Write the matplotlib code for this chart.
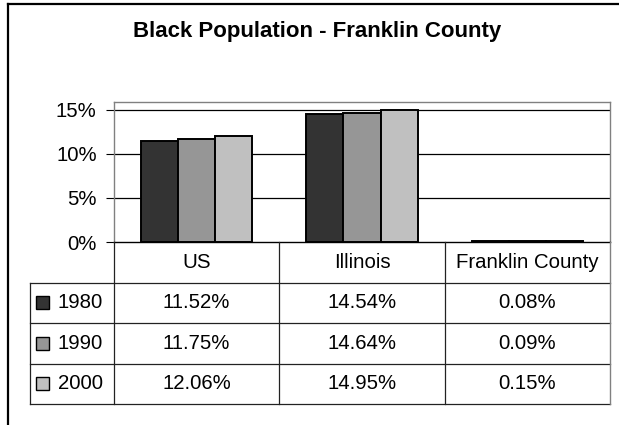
import numpy as np
import matplotlib.pyplot as plt
from matplotlib.lines import Line2D
from matplotlib.patches import Rectangle

plt.rcParams['font.family'] = ['Liberation Sans', 'DejaVu Sans']

# ------------------------------
# Data
# ------------------------------
title = "Black Population - Franklin County"
categories = ["US", "Illinois", "Franklin County"]
years = ["1980", "1990", "2000"]
pct_1980 = [11.52, 14.54, 0.08]
pct_1990 = [11.75, 14.64, 0.09]
pct_2000 = [12.06, 14.95, 0.15]
series = [pct_1980, pct_1990, pct_2000]
colors = ["#333333", "#969696", "#c0c0c0"]
yticks = [0, 5, 10, 15]

# ------------------------------
# Layout (pixel units of a 619x425 canvas)
# ------------------------------
W, H = 619, 425
FS = 14.7


def fy(py):
    return 1 - py / H


fig = plt.figure(figsize=(W / 100, H / 100), dpi=100)

# outer chart border (clipped on the right / bottom)
fig.add_artist(Line2D([8 / W, 8 / W], [fy(4), 0], color="black", lw=1.6))
fig.add_artist(Line2D([8 / W, 1], [fy(4), fy(4)], color="black", lw=1.6))

fig.text(317 / W, fy(32), title, ha="center", va="center",
         fontsize=16, fontweight="bold")

# ------------------------------
# Bar plot
# ------------------------------
ax = fig.add_axes([114 / W, fy(242), (610 - 114) / W, (242 - 102) / H])
x = np.arange(len(categories))
width = 0.225
for i, (vals, c) in enumerate(zip(series, colors)):
    ax.bar(x + (i - 1) * width, vals, width, color=c,
           edgecolor="black", linewidth=1.4, zorder=3)

ax.set_xlim(-0.5, len(categories) - 0.5)
ax.set_ylim(0, 15.9)
ax.set_yticks(yticks)
ax.set_yticklabels([f"{v}%" for v in yticks], fontsize=FS)
ax.set_xticks([])
ax.tick_params(axis="y", length=5.5, width=0.8, pad=7, color="black")
for v in yticks[1:]:
    ax.axhline(v, color="black", lw=0.9, zorder=1)
for s in ["top", "right", "left"]:
    ax.spines[s].set_color("#808080")
    ax.spines[s].set_linewidth(1.0)
ax.spines["bottom"].set_color("black")
ax.spines["bottom"].set_linewidth(1.0)

# ------------------------------
# Data table
# ------------------------------
cat_w = (610 - 114) / len(categories)
label_w = (114 - 30) / cat_w
tax = fig.add_axes([30 / W, fy(404), (610 - 30) / W, (404 - 242) / H])
x0 = -0.5 - label_w
x1 = len(categories) - 0.5
n_rows = len(years) + 1
tax.set_xlim(x0, x1)
tax.set_ylim(n_rows, 0)
tax.axis("off")

lc = dict(color="#222222", lw=0.9, clip_on=False)
for r in range(1, n_rows + 1):
    tax.plot([x0, x1], [r, r], **lc)
tax.plot([x0, x0], [1, n_rows], **lc)
for b in np.arange(len(categories)) - 0.5:
    tax.plot([b, b], [0, n_rows], **lc)
tax.plot([x1, x1], [0, n_rows], color="#808080", lw=1.0, clip_on=False)

for j, cat in enumerate(categories):
    tax.text(j, 0.5, cat, ha="center", va="center", fontsize=FS)

sq_w = 13 / cat_w
sq_h = 13 / ((404 - 242) / n_rows)
for i, (yr, vals, c) in enumerate(zip(years, series, colors)):
    yc = i + 1.5
    tax.add_patch(Rectangle((x0 + 6 / cat_w, yc - sq_h / 2), sq_w, sq_h,
                            facecolor=c, edgecolor="black", lw=1.0))
    tax.text(x0 + 28 / cat_w, yc, yr, ha="left", va="center", fontsize=FS)
    for j, v in enumerate(vals):
        tax.text(j, yc, f"{v:.2f}%", ha="center", va="center", fontsize=FS)

fig.savefig("out.png", dpi=100)
